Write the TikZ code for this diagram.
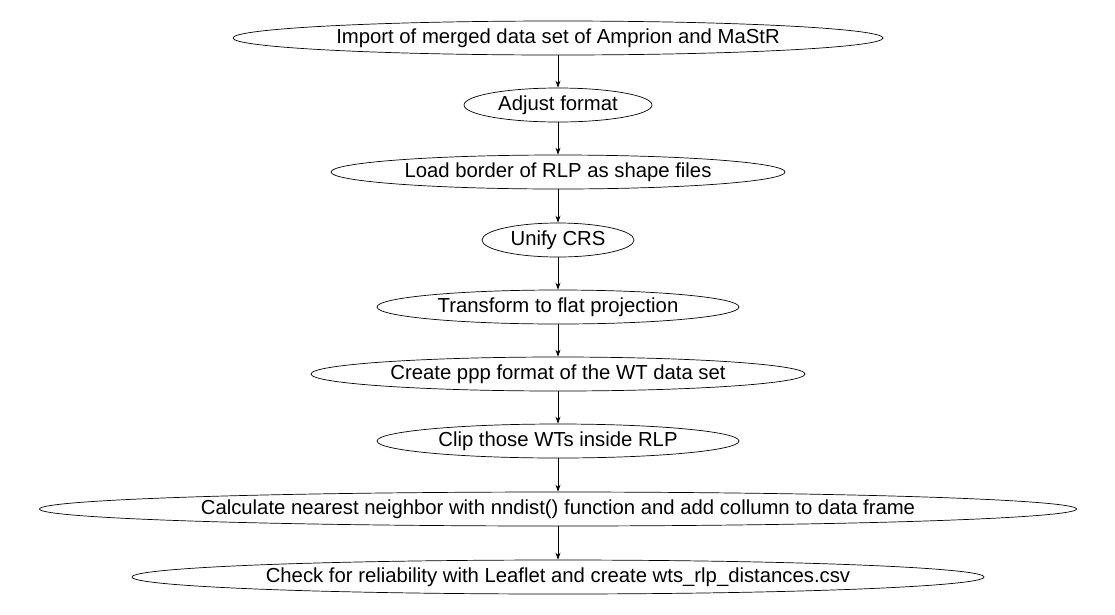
\documentclass[tikz,border=0pt]{standalone}
\usepackage{fontspec}
\setmainfont{Liberation Sans}
\usetikzlibrary{shapes.geometric,arrows.meta}
\begin{document}
\begin{tikzpicture}[x=1pt,y=-1pt,
  stepnode/.style={draw=black,line width=0.7pt,ellipse,inner sep=0pt,minimum height=34pt,font=\fontsize{20.3}{22}\selectfont},
  flow/.style={draw=black,line width=0.7pt,-{Stealth[length=7pt,width=5pt]}}]
\useasboundingbox (0,0) rectangle (1115,614);
\node[stepnode,minimum width=650pt] (n1) at (558,38) {Import of merged data set of Amprion and MaStR};
\node[stepnode,minimum width=188pt] (n2) at (558,105) {Adjust format};
\node[stepnode,minimum width=454pt] (n3) at (558,172) {Load border of RLP as shape files};
\node[stepnode,minimum width=152pt] (n4) at (558,240) {Unify CRS};
\node[stepnode,minimum width=362pt] (n5) at (558,307) {Transform to flat projection};
\node[stepnode,minimum width=494pt] (n6) at (558,374) {Create ppp format of the WT data set};
\node[stepnode,minimum width=362pt] (n7) at (558,441) {Clip those WTs inside RLP};
\node[stepnode,minimum width=1037pt] (n8) at (558,509) {Calculate nearest neighbor with nndist() function and add collumn to data frame};
\node[stepnode,minimum width=852pt] (n9) at (558,577) {Check for reliability with Leaflet and create wts\_rlp\_distances.csv};
\foreach \a/\b in {n1/n2,n2/n3,n3/n4,n4/n5,n5/n6,n6/n7,n7/n8,n8/n9}
  \draw[flow] (\a) -- (\b);
\end{tikzpicture}
\end{document}
